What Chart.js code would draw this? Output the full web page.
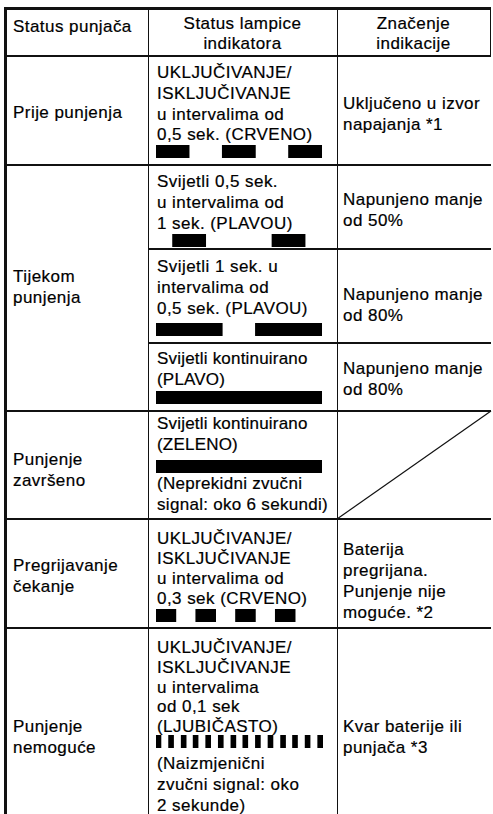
<!DOCTYPE html>
<html>
<head>
<meta charset="utf-8">
<script src="https://cdn.jsdelivr.net/npm/chart.js@4.4.1/dist/chart.umd.min.js"></script>
<style>
  html, body { margin: 0; padding: 0; background: #fff; }
  #wrap { position: relative; width: 493px; height: 814px; overflow: hidden; }
  .t {
    position: absolute;
    font-family: "Liberation Sans", Arial, sans-serif;
    font-size: 17px;
    letter-spacing: 0.45px;
    line-height: 21px;
    color: #000;
    -webkit-text-stroke: 0.2px #000;
    white-space: nowrap;
  }
  .c { text-align: center; }
  .h { position: absolute; background: #111; }
  .ind { position: absolute; }
</style>
</head>
<body>
<div id="wrap">
  <!-- linije tablice -->
  <div class="h" style="left:4px;top:7px;width:487px;height:3px"></div>
  <div class="h" style="left:4px;top:55px;width:487px;height:1.5px"></div>
  <div class="h" style="left:4px;top:164px;width:487px;height:1.5px"></div>
  <div class="h" style="left:148px;top:248px;width:343px;height:1.5px"></div>
  <div class="h" style="left:148px;top:342px;width:343px;height:1.5px"></div>
  <div class="h" style="left:4px;top:410px;width:487px;height:1.5px"></div>
  <div class="h" style="left:4px;top:518px;width:487px;height:1.5px"></div>
  <div class="h" style="left:4px;top:627px;width:487px;height:1.5px"></div>
  <div class="h" style="left:4px;top:7px;width:3px;height:820px"></div>
  <div class="h" style="left:147.5px;top:7px;width:1.5px;height:820px"></div>
  <div class="h" style="left:336.5px;top:7px;width:1.5px;height:820px"></div>
  <div class="h" style="left:489.5px;top:7px;width:1.5px;height:49px"></div>
  <svg style="position:absolute;left:0;top:0" width="493" height="814">
    <line x1="337" y1="519" x2="491" y2="411" stroke="#111" stroke-width="1.2"/>
  </svg>

  <!-- zaglavlje -->
  <div class="t" style="left:13px;top:16px">Status punjača</div>
  <div class="t c" style="left:148px;width:189px;top:14px;line-height:20px">Status lampice<br>indikatora</div>
  <div class="t c" style="left:337px;width:153px;top:14px;line-height:20px">Značenje<br>indikacije</div>

  <!-- Prije punjenja -->
  <div class="t" style="left:13px;top:102px">Prije punjenja</div>
  <div class="t" style="left:157px;top:63px;line-height:20.8px">UKLJUČIVANJE/<br>ISKLJUČIVANJE<br>u intervalima od<br>0,5 sek. (CRVENO)</div>
  <div class="t" style="left:343px;top:93px">Uključeno u izvor<br>napajanja *1</div>

  <!-- Tijekom punjenja -->
  <div class="t" style="left:13px;top:266px">Tijekom<br>punjenja</div>
  <div class="t" style="left:157px;top:171px">Svijetli 0,5 sek.<br>u intervalima od<br>1 sek. (PLAVOU)</div>
  <div class="t" style="left:343px;top:189px">Napunjeno manje<br>od 50%</div>
  <div class="t" style="left:157px;top:256px">Svijetli 1 sek. u<br>intervalima od<br>0,5 sek. (PLAVOU)</div>
  <div class="t" style="left:343px;top:284px">Napunjeno manje<br>od 80%</div>
  <div class="t" style="left:157px;top:348px;letter-spacing:0.2px">Svijetli kontinuirano<br>(PLAVO)</div>
  <div class="t" style="left:343px;top:358px">Napunjeno manje<br>od 80%</div>

  <!-- Punjenje završeno -->
  <div class="t" style="left:13px;top:449px">Punjenje<br>završeno</div>
  <div class="t" style="left:157px;top:413px;letter-spacing:0.2px">Svijetli kontinuirano<br>(ZELENO)</div>
  <div class="t" style="left:157px;top:473px;letter-spacing:0.3px">(Neprekidni zvučni<br>signal: oko 6 sekundi)</div>

  <!-- Pregrijavanje -->
  <div class="t" style="left:13px;top:555px">Pregrijavanje<br>čekanje</div>
  <div class="t" style="left:157px;top:529px;line-height:20px">UKLJUČIVANJE/<br>ISKLJUČIVANJE<br>u intervalima od<br>0,3 sek (CRVENO)</div>
  <div class="t" style="left:343px;top:539px">Baterija<br>pregrijana.<br>Punjenje nije<br>moguće. *2</div>

  <!-- Punjenje nemoguće -->
  <div class="t" style="left:13px;top:716px">Punjenje<br>nemoguće</div>
  <div class="t" style="left:157px;top:638px;line-height:19.8px">UKLJUČIVANJE/<br>ISKLJUČIVANJE<br>u intervalima<br>od 0,1 sek<br>(LJUBIČASTO)</div>
  <div class="t" style="left:157px;top:753px;line-height:21px">(Naizmjenični<br>zvučni signal: oko<br>2 sekunde)</div>
  <div class="t" style="left:343px;top:716px">Kvar baterije ili<br>punjača *3</div>

  <!-- indikatori (vremenski uzorci u sekundama) -->
  <canvas class="ind" id="ind1" width="167" height="13" style="left:156px;top:145px"></canvas>
  <canvas class="ind" id="ind2" width="167" height="13" style="left:156px;top:234px"></canvas>
  <canvas class="ind" id="ind3" width="167" height="13" style="left:156px;top:323px"></canvas>
  <canvas class="ind" id="ind4" width="167" height="13" style="left:156px;top:391px"></canvas>
  <canvas class="ind" id="ind5" width="167" height="13" style="left:156px;top:460px"></canvas>
  <canvas class="ind" id="ind6" width="167" height="13" style="left:156px;top:609px"></canvas>
  <canvas class="ind" id="ind7" width="167" height="13" style="left:156px;top:735px"></canvas>
</div>

<script>
// vremenska os u sekundama, [pocetak, kraj] svakog svjetljenja
const TIME_MAX = 2.52;

const prijePunjenja = [[0, 0.5], [1, 1.5], [2, 2.5]];
const manjeOd50 = [[0.25, 0.75], [1.75, 2.25]];
const manjeOd80 = [[0, 1], [1.5, 2.5]];
const plavoStalno = [[0, 2.5]];
const zelenoStalno = [[0, 2.5]];
const pregrijavanje = [[0, 0.3], [0.6, 0.9], [1.2, 1.5], [1.8, 2.1]];
const nemoguce = [
    [0, 0.075], [0.19, 0.265], [0.38, 0.455], [0.56, 0.635],
    [0.75, 0.825], [0.94, 1.015], [1.13, 1.205], [1.31, 1.385],
    [1.5, 1.575], [1.69, 1.765], [1.88, 1.955], [2.06, 2.135],
    [2.25, 2.325], [2.44, 2.515]
];

function crtajIndikator(id, segmenti) {
    const ctx = document.getElementById(id).getContext('2d');
    new Chart(ctx, {
        type: 'bar',
        data: {
            labels: [''],
            datasets: segmenti.map(seg => ({
                data: [seg],
                backgroundColor: '#000',
                borderWidth: 0,
                barPercentage: 1,
                categoryPercentage: 1,
                grouped: false
            }))
        },
        options: {
            indexAxis: 'y',
            responsive: false,
            maintainAspectRatio: false,
            animation: false,
            layout: { padding: 0 },
            plugins: { legend: { display: false }, tooltip: { enabled: false } },
            scales: {
                x: { min: 0, max: TIME_MAX, display: false },
                y: { display: false }
            }
        }
    });
}

crtajIndikator('ind1', prijePunjenja);
crtajIndikator('ind2', manjeOd50);
crtajIndikator('ind3', manjeOd80);
crtajIndikator('ind4', plavoStalno);
crtajIndikator('ind5', zelenoStalno);
crtajIndikator('ind6', pregrijavanje);
crtajIndikator('ind7', nemoguce);
</script>
</body>
</html>
